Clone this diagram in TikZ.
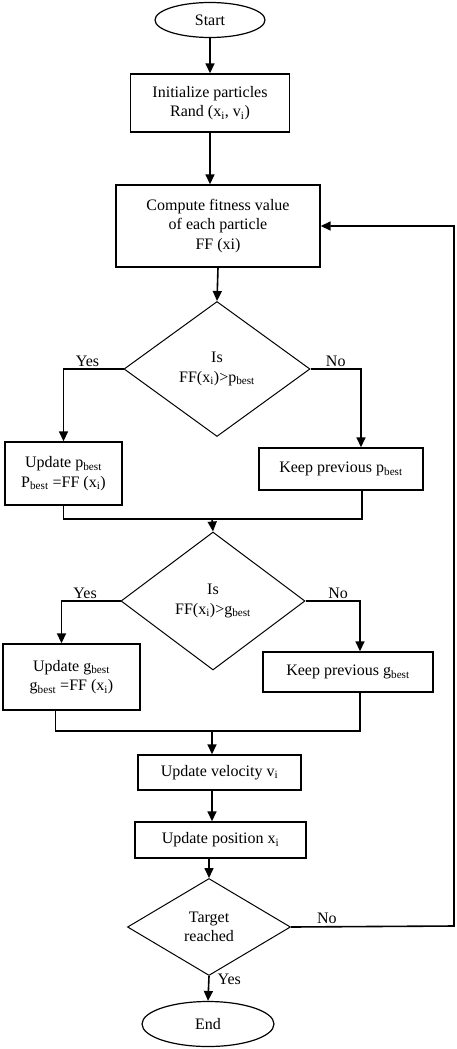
\documentclass[tikz,border=0pt]{standalone}
\usepackage{fontspec}
\setmainfont{Liberation Serif}
\usetikzlibrary{arrows.meta, shapes.geometric}

\begin{document}
\begin{tikzpicture}[x=1pt, y=-1pt, >={Triangle[length=10pt, width=9pt]},
  font=\fontsize{16}{19.5}\selectfont,
  every node/.style={align=center, inner sep=0pt},
  procbox/.style={draw, line width=1.4pt, rectangle},
  decbox/.style={draw, line width=1pt, diamond},
  termbox/.style={draw, line width=1.2pt, ellipse},
  flow/.style={draw, line width=1.6pt},
  lbl/.style={inner sep=2pt}]
  \useasboundingbox (0,0) rectangle (457,1049);

  \node[termbox, minimum width=110pt, minimum height=35pt] (start) at (210,20) {Start};
  \node[procbox, minimum width=159pt, minimum height=58pt] (init) at (210,103)
    {Initialize particles\\Rand (x\textsubscript{i}, v\textsubscript{i})};
  \node[procbox, minimum width=204pt, minimum height=82pt] (comp) at (218,226)
    {Compute fitness value\\of each particle\\FF (xi)};
  \node[decbox, minimum width=186pt, minimum height=135pt] (dp) at (217,369)
    {Is\\FF(x\textsubscript{i})>p\textsubscript{best}};
  \node[procbox, minimum width=117pt, minimum height=63pt] (updp) at (63.5,473.5)
    {Update p\textsubscript{best}\\P\textsubscript{best} =FF (x\textsubscript{i})};
  \node[procbox, minimum width=164pt, minimum height=42pt] (keepp) at (341,469)
    {Keep previous p\textsubscript{best}};
  \node[decbox, minimum width=184pt, minimum height=138pt] (dg) at (213,601)
    {Is\\FF(x\textsubscript{i})>g\textsubscript{best}};
  \node[procbox, minimum width=137pt, minimum height=66pt] (updg) at (71.5,677)
    {Update g\textsubscript{best}\\g\textsubscript{best} =FF (x\textsubscript{i})};
  \node[procbox, minimum width=170pt, minimum height=40pt] (keepg) at (348,672)
    {Keep previous g\textsubscript{best}};
  \node[procbox, minimum width=163pt, minimum height=35pt] (vel) at (219.5,772.5)
    {Update velocity v\textsubscript{i}};
  \node[procbox, minimum width=171pt, minimum height=36pt] (pos) at (220.5,840)
    {Update position x\textsubscript{i}};
  \node[decbox, minimum width=163pt, minimum height=97pt] (dt) at (209,927)
    {Target\\reached};
  \node[termbox, minimum width=132pt, minimum height=45pt] (end) at (208,1024) {End};

  \coordinate (mp) at (212,519);
  \coordinate (mg) at (212,731);
  \coordinate (fb) at (454,926);

  \draw[flow, ->] (start.south) -- (init.north);
  \draw[flow, ->] (init.south) -- (init.south |- comp.north);
  \draw[flow, ->] (comp.south) -- (dp.north);
  \draw[flow, ->] (dp.west) -| node[lbl, above, pos=0.3] {Yes} (updp.north);
  \draw[flow, ->] (dp.east) -| node[lbl, above, pos=0.25] {No} ([xshift=20pt]keepp.north);
  \draw[flow] (updp.south) |- (mp) -| ([xshift=21pt]keepp.south);
  \draw[flow, ->] (mp) -- (dg.north);
  \draw[flow, ->] (dg.west) -| node[lbl, above, pos=0.3] {Yes} ([xshift=-10pt]updg.north);
  \draw[flow, ->] (dg.east) -| node[lbl, above, pos=0.3] {No} ([xshift=12pt]keepg.north);
  \draw[flow] ([xshift=-16pt]updg.south) |- (mg) -| ([xshift=12pt]keepg.south);
  \draw[flow, ->] (mg) -- (mg |- vel.north);
  \draw[flow, ->] ([xshift=-7.5pt]vel.south) -- ([xshift=-7.5pt]vel.south |- pos.north);
  \draw[flow, ->] ([xshift=-11.5pt]pos.south) -- (dt.north);
  \draw[flow, ->] (dt.south) -- node[lbl, right, pos=0.15, xshift=6pt] {Yes} (end.north);
  \draw[flow, ->] (dt.east) -- node[lbl, above, pos=0.22] {No} (fb) |- (comp.east);
\end{tikzpicture}
\end{document}
